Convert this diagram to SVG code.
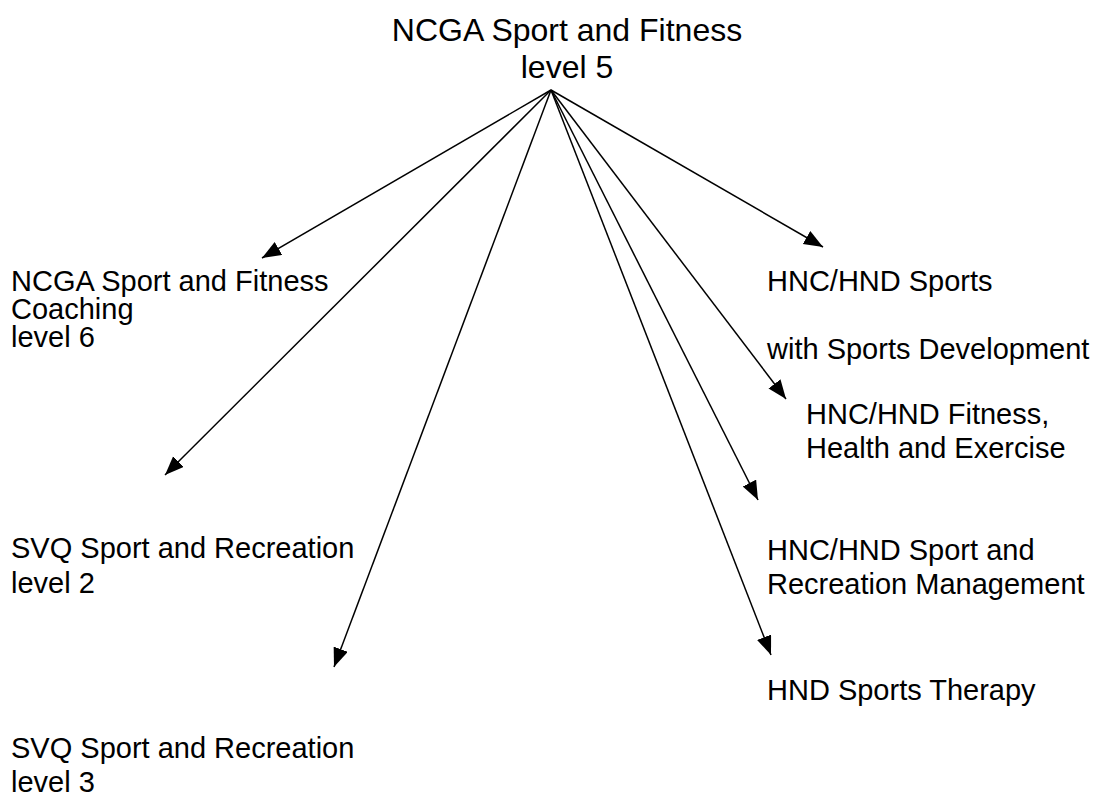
<svg xmlns="http://www.w3.org/2000/svg" width="1102" height="802" viewBox="0 0 1102 802">
<defs>
<style>
text{font-family:"Liberation Sans",Arial,sans-serif;fill:#000;}
.t{font-size:32px;}
.b{font-size:29px;}
.c line{stroke:#000;stroke-width:1.5;marker-end:url(#ah);}
</style>
<marker id="ah" markerUnits="userSpaceOnUse" markerWidth="20" markerHeight="16" refX="19" refY="7.5" orient="auto">
<path d="M0,0 L19,7.5 L0,15 z" fill="#000"/>
</marker>
</defs>
<rect width="1102" height="802" fill="#fff"/>
<g id="connectors" class="c">
<line x1="551" y1="90" x2="262" y2="258"/>
<line x1="551" y1="90" x2="165" y2="475"/>
<line x1="551" y1="90" x2="334" y2="667"/>
<line x1="551" y1="90" x2="823" y2="247"/>
<line x1="551" y1="90" x2="786" y2="399"/>
<line x1="551" y1="90" x2="758" y2="500"/>
<line x1="551" y1="90" x2="771" y2="655"/>
</g>
<g id="root"><text class="t" x="567" y="41" text-anchor="middle">NCGA Sport and Fitness</text><text class="t" x="567" y="78" text-anchor="middle">level 5</text></g>
<g id="coaching"><text class="b" x="11" y="291">NCGA Sport and Fitness</text><text class="b" x="11" y="319">Coaching</text><text class="b" x="11" y="347">level 6</text></g>
<g id="svq2"><text class="b" x="11" y="558">SVQ Sport and Recreation</text><text class="b" x="11" y="593">level 2</text></g>
<g id="svq3"><text class="b" x="11" y="758">SVQ Sport and Recreation</text><text class="b" x="11" y="792">level 3</text></g>
<g id="hnc-sports"><text class="b" x="767" y="291">HNC/HND Sports</text><text class="b" x="767" y="359">with Sports Development</text></g>
<g id="hnc-fitness"><text class="b" x="806" y="424">HNC/HND Fitness,</text><text class="b" x="806" y="458">Health and Exercise</text></g>
<g id="hnc-rec"><text class="b" x="767" y="560">HNC/HND Sport and</text><text class="b" x="767" y="594">Recreation Management</text></g>
<g id="hnd-therapy"><text class="b" x="767" y="700">HND Sports Therapy</text></g>
</svg>
